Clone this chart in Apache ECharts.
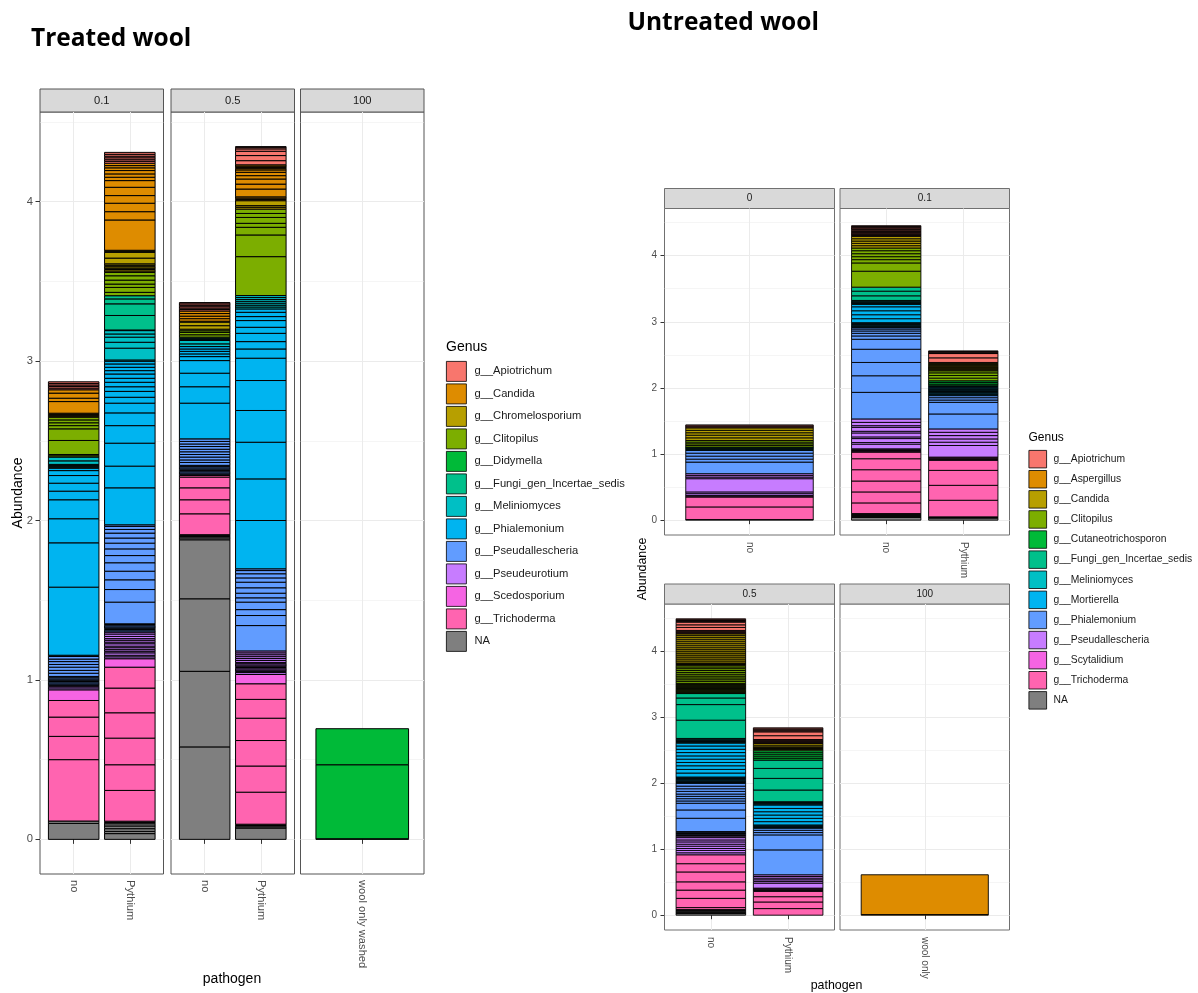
<!DOCTYPE html>
<html>
<head>
<meta charset="utf-8">
<title>Genus abundance in treated and untreated wool</title>
<script src="https://cdn.jsdelivr.net/npm/echarts@6/dist/echarts.min.js"></script>
<style>
html, body { margin: 0; padding: 0; background: #ffffff; }
#chart { width: 1198px; height: 993px; }
</style>
</head>
<body>
<div id="chart"></div>
<script>
// ---- Genus levels (legend order) and their fills: ggplot hue palette, NA in grey ----
const treatedGenera = ['g__Apiotrichum', 'g__Candida', 'g__Chromelosporium', 'g__Clitopilus', 'g__Didymella',
  'g__Fungi_gen_Incertae_sedis', 'g__Meliniomyces', 'g__Phialemonium', 'g__Pseudallescheria',
  'g__Pseudeurotium', 'g__Scedosporium', 'g__Trichoderma', 'NA'];
const untreatedGenera = ['g__Apiotrichum', 'g__Aspergillus', 'g__Candida', 'g__Clitopilus', 'g__Cutaneotrichosporon',
  'g__Fungi_gen_Incertae_sedis', 'g__Meliniomyces', 'g__Mortierella', 'g__Phialemonium',
  'g__Pseudallescheria', 'g__Scytalidium', 'g__Trichoderma', 'NA'];
const genusFills = ['#F8766D', '#DE8C00', '#B79F00', '#7CAE00', '#00BA38', '#00C08B', '#00BFC4',
  '#00B4F0', '#619CFF', '#C77CFF', '#F564E3', '#FF64B0', '#7F7F7F'];

// ---- Facet strips and pathogen categories ----
const treatedFacets = ['0.1', '0.5', '100'];
const treatedPathogens = [['no', 'Pythium'], ['no', 'Pythium'], ['wool only washed']];
const untreatedFacets = ['0', '0.1', '0.5', '100'];
const untreatedPathogens = [['no'], ['no', 'Pythium'], ['no', 'Pythium'], ['wool only']];
const yTicks = [0, 1, 2, 3, 4];
const yMinorTicks = [0.5, 1.5, 2.5, 3.5, 4.5];

// ---- OTU abundances of each bar, stacked bottom to top: [genus, otu values...] ----
// Treated wool
const treated01No = [
  ['NA', 0.100, 0.015],
  ['g__Trichoderma', 0.385, 0.146, 0.121, 0.104],
  ['g__Scedosporium', 0.067],
  ['g__Pseudeurotium', 0.012, 0.008, 0.008],
  ['g__Pseudallescheria', 0.008, 0.008, 0.008, 0.008, 0.008, 0.008, 0.008, 0.020, 0.018, 0.020, 0.017, 0.018, 0.016, 0.016],
  ['g__Phialemonium', 0.008, 0.427, 0.278, 0.151, 0.119, 0.054, 0.050, 0.048, 0.031, 0.015],
  ['g__Meliniomyces', 0.006, 0.006, 0.006, 0.006, 0.022, 0.024],
  ['g__Clitopilus', 0.008, 0.008, 0.088, 0.073, 0.020, 0.018, 0.018, 0.017],
  ['g__Chromelosporium', 0.006, 0.006, 0.006, 0.007],
  ['g__Candida', 0.073, 0.021, 0.032, 0.021],
  ['g__Apiotrichum', 0.010, 0.010, 0.010, 0.010, 0.010]
];
const treated01Pythium = [
  ['NA', 0.036, 0.014, 0.017, 0.017, 0.014, 0.008, 0.008],
  ['g__Trichoderma', 0.193, 0.161, 0.167, 0.159, 0.155, 0.131],
  ['g__Scedosporium', 0.053],
  ['g__Pseudeurotium', 0.012, 0.010, 0.015, 0.010, 0.010, 0.012, 0.010, 0.015, 0.010, 0.012, 0.010, 0.014, 0.015, 0.012],
  ['g__Pseudallescheria', 0.008, 0.008, 0.008, 0.008, 0.008, 0.008, 0.004, 0.136, 0.079, 0.061, 0.054, 0.053, 0.045, 0.042, 0.036, 0.032, 0.031, 0.023, 0.019, 0.010],
  ['g__Phialemonium', 0.232, 0.136, 0.144, 0.110, 0.080, 0.061, 0.037, 0.037, 0.029, 0.028, 0.025, 0.027, 0.021, 0.021, 0.021, 0.017],
  ['g__Meliniomyces', 0.008, 0.074, 0.037, 0.032, 0.020, 0.021, 0.004],
  ['g__Fungi_gen_Incertae_sedis', 0.091, 0.073, 0.031, 0.020],
  ['g__Clitopilus', 0.021, 0.031, 0.021, 0.025, 0.027, 0.021],
  ['g__Chromelosporium', 0.009, 0.009, 0.009, 0.009, 0.009, 0.009, 0.036, 0.036, 0.006, 0.007],
  ['g__Candida', 0.190, 0.052, 0.053, 0.048, 0.052, 0.042, 0.021, 0.021, 0.021, 0.017, 0.014, 0.015],
  ['g__Apiotrichum', 0.012, 0.010, 0.012, 0.010, 0.012, 0.012]
];
const treated05No = [
  ['NA', 0.580, 0.474, 0.455, 0.370, 0.012, 0.008, 0.006, 0.006],
  ['g__Trichoderma', 0.131, 0.088, 0.075, 0.067, 0.010],
  ['g__Pseudeurotium', 0.008],
  ['g__Pseudallescheria', 0.008, 0.008, 0.008, 0.008, 0.008, 0.008, 0.008, 0.018, 0.016, 0.018, 0.016, 0.017, 0.016, 0.017, 0.016, 0.016, 0.016],
  ['g__Phialemonium', 0.224, 0.103, 0.085, 0.079, 0.025, 0.017, 0.016, 0.015, 0.015],
  ['g__Meliniomyces', 0.017, 0.021, 0.007, 0.007, 0.007],
  ['g__Clitopilus', 0.015, 0.015, 0.010, 0.010],
  ['g__Chromelosporium', 0.022, 0.022, 0.006],
  ['g__Candida', 0.016, 0.016, 0.016, 0.016],
  ['g__Apiotrichum', 0.009, 0.009, 0.009, 0.009, 0.009, 0.008]
];
const treated05Pythium = [
  ['NA', 0.071, 0.008, 0.008, 0.008],
  ['g__Trichoderma', 0.201, 0.164, 0.160, 0.140, 0.118, 0.098],
  ['g__Scedosporium', 0.058],
  ['g__Pseudeurotium', 0.012, 0.008, 0.008, 0.008, 0.008, 0.008, 0.008, 0.008, 0.008, 0.012, 0.012, 0.012, 0.012, 0.012, 0.012],
  ['g__Pseudallescheria', 0.159, 0.063, 0.037, 0.047, 0.027, 0.029, 0.034, 0.035, 0.027, 0.026, 0.020, 0.011],
  ['g__Phialemonium', 0.303, 0.261, 0.230, 0.199, 0.188, 0.140, 0.058, 0.046, 0.052, 0.038, 0.042, 0.025, 0.027, 0.021],
  ['g__Meliniomyces', 0.012, 0.012, 0.012, 0.012, 0.012, 0.012, 0.012],
  ['g__Clitopilus', 0.244, 0.136, 0.048, 0.025, 0.037, 0.025, 0.027],
  ['g__Chromelosporium', 0.012, 0.010, 0.031],
  ['g__Candida', 0.008, 0.008, 0.008, 0.049, 0.031, 0.032, 0.021, 0.021, 0.015, 0.008, 0.008, 0.008, 0.008],
  ['g__Apiotrichum', 0.026, 0.032, 0.027, 0.015, 0.010, 0.004]
];
const treated100Wool = [
  ['g__Didymella', 0.004, 0.464, 0.226]
];

// Untreated wool
const untreated0No = [
  ['NA', 0.010],
  ['g__Trichoderma', 0.190, 0.150],
  ['g__Scytalidium', 0.012, 0.012],
  ['g__Pseudallescheria', 0.027, 0.026, 0.200, 0.025, 0.025, 0.026],
  ['g__Phialemonium', 0.175, 0.045, 0.045, 0.045, 0.041],
  ['g__Meliniomyces', 0.013, 0.014],
  ['g__Fungi_gen_Incertae_sedis', 0.012, 0.012],
  ['g__Clitopilus', 0.025, 0.025, 0.025, 0.025],
  ['g__Candida', 0.040, 0.040, 0.037, 0.037, 0.037],
  ['g__Apiotrichum', 0.015, 0.015, 0.015]
];
const untreated01No = [
  ['NA', 0.040, 0.015, 0.015, 0.015, 0.015],
  ['g__Trichoderma', 0.161, 0.166, 0.165, 0.171, 0.166, 0.100],
  ['g__Scytalidium', 0.012, 0.012, 0.013, 0.013],
  ['g__Pseudallescheria', 0.070, 0.025, 0.060, 0.025, 0.060, 0.025, 0.060, 0.025, 0.050, 0.052],
  ['g__Phialemonium', 0.402, 0.251, 0.201, 0.200, 0.151, 0.050, 0.040, 0.035, 0.030, 0.021],
  ['g__Mortierella', 0.012, 0.012, 0.012, 0.012, 0.013, 0.014, 0.060, 0.060, 0.060, 0.060, 0.036],
  ['g__Meliniomyces', 0.012, 0.012, 0.012, 0.012, 0.012],
  ['g__Fungi_gen_Incertae_sedis', 0.070, 0.070, 0.061],
  ['g__Clitopilus', 0.241, 0.125, 0.050, 0.045, 0.045, 0.045, 0.041],
  ['g__Candida', 0.035, 0.035, 0.035, 0.035, 0.036],
  ['g__Apiotrichum', 0.012, 0.012, 0.012, 0.012, 0.012, 0.012, 0.014, 0.020, 0.020, 0.012, 0.012, 0.011]
];
const untreated01Pythium = [
  ['NA', 0.030, 0.010, 0.010],
  ['g__Trichoderma', 0.251, 0.226, 0.226, 0.151],
  ['g__Scytalidium', 0.012, 0.012, 0.013, 0.013],
  ['g__Pseudallescheria', 0.175, 0.050, 0.050, 0.050, 0.050, 0.051],
  ['g__Phialemonium', 0.226, 0.176, 0.035, 0.035, 0.031],
  ['g__Mortierella', 0.013, 0.012, 0.013, 0.012, 0.013, 0.012, 0.013, 0.012, 0.013, 0.012, 0.013, 0.012],
  ['g__Cutaneotrichosporon', 0.025, 0.025, 0.025],
  ['g__Clitopilus', 0.040, 0.040, 0.040, 0.031],
  ['g__Candida', 0.014, 0.014, 0.014, 0.014, 0.014, 0.014, 0.014, 0.014, 0.014],
  ['g__Apiotrichum', 0.070, 0.065, 0.010, 0.010, 0.010, 0.010]
];
const untreated05No = [
  ['NA', 0.025, 0.012, 0.012, 0.012, 0.012, 0.012],
  ['g__Trichoderma', 0.030, 0.140, 0.125, 0.125, 0.150, 0.125, 0.135],
  ['g__Pseudallescheria', 0.030, 0.035, 0.030, 0.035, 0.030, 0.035, 0.030, 0.035, 0.022, 0.010, 0.010, 0.010],
  ['g__Phialemonium', 0.010, 0.010, 0.010, 0.010, 0.201, 0.126, 0.101, 0.035, 0.035, 0.035, 0.035, 0.040, 0.040, 0.040, 0.042],
  ['g__Mortierella', 0.012, 0.012, 0.012, 0.012, 0.012, 0.012, 0.012, 0.012, 0.060, 0.055, 0.055, 0.050, 0.050, 0.050, 0.050, 0.050, 0.050, 0.043],
  ['g__Meliniomyces', 0.012, 0.012, 0.012, 0.012, 0.012, 0.011],
  ['g__Fungi_gen_Incertae_sedis', 0.277, 0.236, 0.100, 0.067],
  ['g__Clitopilus', 0.013, 0.012, 0.013, 0.012, 0.013, 0.012, 0.013, 0.012, 0.013, 0.012, 0.013, 0.013, 0.030, 0.028, 0.028, 0.028, 0.028, 0.028, 0.028, 0.028, 0.026, 0.025],
  ['g__Candida', 0.012, 0.012, 0.011, 0.030, 0.030, 0.030, 0.030, 0.030, 0.030, 0.030, 0.030, 0.030, 0.030, 0.030, 0.030, 0.030, 0.030, 0.023],
  ['g__Apiotrichum', 0.0125, 0.0125, 0.0125, 0.0125, 0.045, 0.040, 0.040, 0.0125, 0.0125, 0.013, 0.013]
];
const untreated05Pythium = [
  ['g__Trichoderma', 0.100, 0.100, 0.080, 0.080],
  ['g__Scytalidium', 0.012, 0.012, 0.013, 0.013],
  ['g__Pseudallescheria', 0.076, 0.025, 0.025, 0.025, 0.025, 0.026],
  ['g__Phialemonium', 0.377, 0.227, 0.035, 0.035, 0.031],
  ['g__Mortierella', 0.012, 0.012, 0.013, 0.013, 0.050, 0.050, 0.050, 0.050, 0.050, 0.052],
  ['g__Meliniomyces', 0.012, 0.012, 0.013, 0.013],
  ['g__Fungi_gen_Incertae_sedis', 0.177, 0.176, 0.151, 0.126],
  ['g__Cutaneotrichosporon', 0.030, 0.030, 0.030, 0.030, 0.031],
  ['g__Candida', 0.012, 0.012, 0.013, 0.013, 0.025, 0.026],
  ['g__Apiotrichum', 0.012, 0.012, 0.012, 0.012, 0.012, 0.058, 0.058, 0.015, 0.015, 0.015, 0.016]
];
const untreated100Wool = [
  ['g__Aspergillus', 0.010, 0.602]
];

// ---- Chart construction ----
const FONT = "'Liberation Sans', Arial, sans-serif";
const TITLE_FONT = "'Open Sans', 'Noto Sans', sans-serif";
const BAR_HALF_WIDTH = 0.45;   // bars are 0.9 of a category step wide

const option = { animation: false, grid: [], xAxis: [], yAxis: [], series: [], legend: [], graphic: [] };

function segmentsOf(bar) {
  return bar.flatMap(row => row.slice(1).map(v => [row[0], v]));
}
function barTotal(bar) {
  return segmentsOf(bar).reduce((s, seg) => s + seg[1], 0);
}

// Stacked OTU rectangle drawn through the grid's own x/y scales
function makeSegmentRenderer(fill, lineWidth) {
  return function (params, api) {
    const x = api.value(0);
    const lo = api.value(1);
    const hi = api.value(2);
    const topLeft = api.coord([x - BAR_HALF_WIDTH, hi]);
    const bottomRight = api.coord([x + BAR_HALF_WIDTH, lo]);
    return {
      type: 'rect',
      shape: { x: topLeft[0], y: topLeft[1], width: bottomRight[0] - topLeft[0], height: bottomRight[1] - topLeft[1] },
      style: { fill: fill, stroke: '#000000', lineWidth: lineWidth }
    };
  };
}

// One facetted stacked-bar figure: a grid per facet sharing a fixed y scale
function addFacetFigure(cfg) {
  const maxTotal = Math.max(...cfg.bars.flat().map(barTotal));
  const yMin = -0.05 * maxTotal;
  const yMax = 1.05 * maxTotal;
  const firstLeft = Math.min(...cfg.boxes.map(b => b.left));

  cfg.facets.forEach((facet, p) => {
    const box = cfg.boxes[p];
    const cats = cfg.pathogens[p];
    const catPos = cats.map((c, i) => i + 1);
    const showY = box.left === firstLeft;
    const g = option.grid.length;

    option.grid.push({
      left: box.left, top: box.top, width: box.width, height: box.height,
      show: true, borderColor: cfg.frame, borderWidth: 1, backgroundColor: '#ffffff'
    });

    option.xAxis.push({
      type: 'value', gridIndex: g, min: 0.4, max: cats.length + 0.6,
      axisLine: { show: false },
      axisTick: { show: true, length: cfg.tickLen, lineStyle: { color: '#333333' }, customValues: catPos },
      axisLabel: {
        customValues: catPos, formatter: v => cats[Math.round(v) - 1] || '',
        rotate: -90, margin: cfg.xLabelMargin, color: '#4d4d4d', fontSize: cfg.tickFont, fontFamily: FONT
      },
      splitLine: { show: true, lineStyle: { color: '#ebebeb', width: 1 } }
    });

    const yMain = option.yAxis.length;
    option.yAxis.push({
      type: 'value', gridIndex: g, min: yMin, max: yMax,
      axisLine: { show: false },
      axisTick: { show: showY, length: cfg.tickLen, lineStyle: { color: '#333333' }, customValues: yTicks },
      axisLabel: { show: showY, customValues: yTicks, margin: cfg.yLabelMargin, color: '#4d4d4d', fontSize: cfg.tickFont, fontFamily: FONT },
      splitLine: { show: true, lineStyle: { color: '#ebebeb', width: 1 } }
    });
    // minor horizontal grid lines
    option.yAxis.push({
      type: 'value', gridIndex: g, min: yMin, max: yMax, position: 'left',
      axisLine: { show: false },
      axisTick: { show: false, customValues: yMinorTicks },
      axisLabel: { show: false, customValues: yMinorTicks },
      splitLine: { show: true, lineStyle: { color: '#ebebeb', width: 0.5 } }
    });

    // cumulative stacking of the OTU pieces, grouped per genus
    const pieces = {};
    cfg.bars[p].forEach((bar, b) => {
      let base = 0;
      segmentsOf(bar).forEach(([genus, v]) => {
        (pieces[genus] = pieces[genus] || []).push([b + 1, base, base + v]);
        base += v;
      });
    });
    // lower genera first so each piece above is painted over the one below
    cfg.genera.slice().reverse().forEach(genus => {
      if (!pieces[genus]) return;
      const fill = genusFills[cfg.genera.indexOf(genus)];
      option.series.push({
        type: 'custom', name: genus, xAxisIndex: g, yAxisIndex: yMain, silent: true,
        itemStyle: { color: fill },
        encode: { x: 0, y: [1, 2] },
        renderItem: makeSegmentRenderer(fill, cfg.segBorder),
        data: pieces[genus]
      });
    });

    // facet strip
    option.graphic.push({
      type: 'rect', silent: true,
      shape: { x: box.left, y: box.top - cfg.stripH, width: box.width, height: cfg.stripH },
      style: { fill: '#d9d9d9', stroke: cfg.frame, lineWidth: 1 }
    });
    option.graphic.push({
      type: 'text', silent: true, x: box.left + box.width / 2, y: box.top - cfg.stripH / 2,
      style: { text: facet, align: 'center', verticalAlign: 'middle', fill: '#1a1a1a', fontSize: cfg.tickFont, fontFamily: FONT }
    });
  });

  // legend
  option.legend.push({
    orient: 'vertical', left: cfg.legend.left, top: cfg.legend.top, padding: 0,
    itemWidth: cfg.legend.key, itemHeight: cfg.legend.keyH, itemGap: cfg.legend.gap,
    icon: 'rect', selectedMode: false,
    itemStyle: { borderColor: '#000000', borderWidth: 0.8 },
    textStyle: { fontSize: cfg.legend.font, color: '#1a1a1a', fontFamily: FONT, padding: [0, 0, 0, cfg.legend.textPad] },
    data: cfg.genera.map((name, i) => ({ name: name, itemStyle: { color: genusFills[i] } }))
  });

  // titles
  cfg.texts.forEach(t => {
    option.graphic.push({
      type: 'text', silent: true, x: t.x, y: t.y, rotation: t.rotation || 0,
      style: {
        text: t.text, align: t.align || 'center', verticalAlign: 'middle', fill: '#000000',
        fontSize: t.size, fontWeight: t.weight || 'normal', fontFamily: t.family || FONT
      }
    });
  });
}

addFacetFigure({
  facets: treatedFacets,
  pathogens: treatedPathogens,
  bars: [[treated01No, treated01Pythium], [treated05No, treated05Pythium], [treated100Wool]],
  genera: treatedGenera,
  boxes: [
    { left: 40, top: 112, width: 123.5, height: 762 },
    { left: 171, top: 112, width: 123.5, height: 762 },
    { left: 300.5, top: 112, width: 123.5, height: 762 }
  ],
  stripH: 23, frame: '#555555', tickLen: 4.5, tickFont: 11.2, xLabelMargin: 6, yLabelMargin: 7, segBorder: 1.0,
  legend: { left: 446, top: 361, key: 20, keyH: 20, gap: 1.7, font: 11.2, textPad: 3 },
  texts: [
    { text: 'Treated wool', x: 31, y: 39, size: 24.5, weight: 'bold', align: 'left', family: TITLE_FONT },
    { text: 'Genus', x: 446, y: 347, size: 14, align: 'left' },
    { text: 'Abundance', x: 18, y: 493, size: 14, rotation: Math.PI / 2 },
    { text: 'pathogen', x: 232, y: 979, size: 14 }
  ]
});

addFacetFigure({
  facets: untreatedFacets,
  pathogens: untreatedPathogens,
  bars: [[untreated0No], [untreated01No, untreated01Pythium], [untreated05No, untreated05Pythium], [untreated100Wool]],
  genera: untreatedGenera,
  boxes: [
    { left: 664.5, top: 208.5, width: 170, height: 326.5 },
    { left: 840, top: 208.5, width: 169.5, height: 326.5 },
    { left: 664.5, top: 604, width: 170, height: 326 },
    { left: 840, top: 604, width: 169.5, height: 326 }
  ],
  stripH: 20, frame: '#707070', tickLen: 4, tickFont: 10, xLabelMargin: 7, yLabelMargin: 7.5, segBorder: 0.9,
  legend: { left: 1028.5, top: 450, key: 17.7, keyH: 17.5, gap: 1.8, font: 10.3, textPad: 2 },
  texts: [
    { text: 'Untreated wool', x: 627.5, y: 23, size: 24.5, weight: 'bold', align: 'left', family: TITLE_FONT },
    { text: 'Genus', x: 1028.5, y: 438, size: 12, align: 'left' },
    { text: 'Abundance', x: 643, y: 569, size: 12.4, rotation: Math.PI / 2 },
    { text: 'pathogen', x: 836.5, y: 986, size: 12.4 }
  ]
});

const chart = echarts.init(document.getElementById('chart'), null, { renderer: 'canvas' });
chart.setOption(option);
</script>
</body>
</html>
